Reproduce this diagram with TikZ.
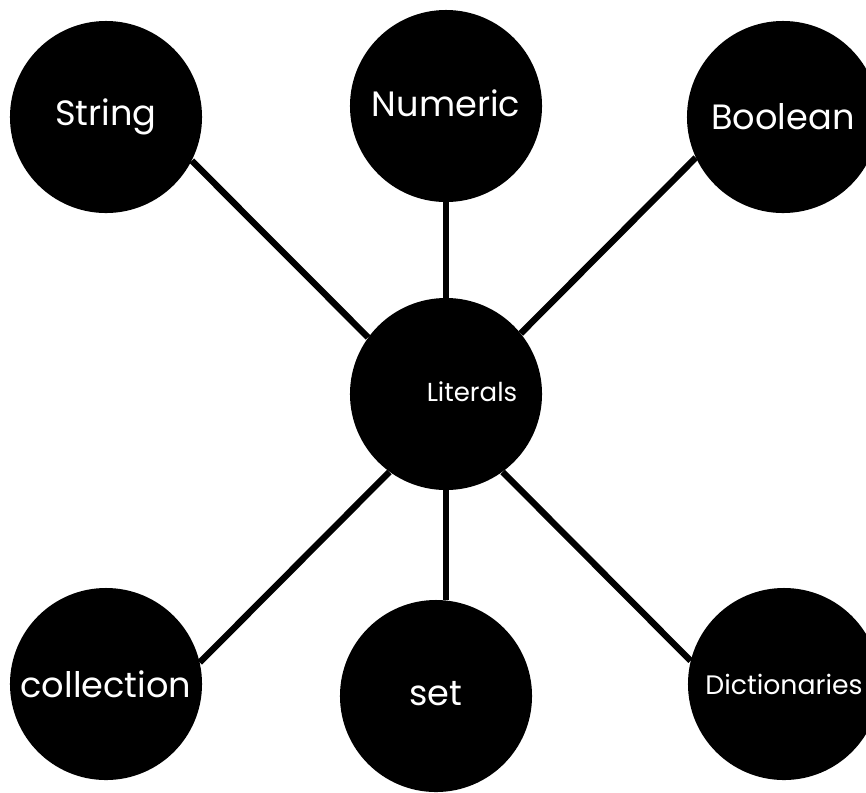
\documentclass[tikz,border=0pt]{standalone}
\usepackage{fontspec}
\setmainfont{Poppins}
\usepackage{tikz}
\usetikzlibrary{positioning}

\begin{document}
\begin{tikzpicture}[
    x=0.025cm, y=-0.025cm,
    font=\fontsize{25}{30}\selectfont,
    bubble/.style={circle, fill=black, text=white, minimum size=4.8cm, inner sep=0pt},
    link/.style={line width=0.16cm}
]
    \useasboundingbox (0,0) rectangle (866,792);
    \clip (0,0) rectangle (866,792);

    \node[bubble] (lit) at (446,394) {};
    \node[text=white, font=\fontsize{18.5}{22}\selectfont] (littext) at (472,392) {Literals};

    \node[bubble] (str) at (106,117) {String};
    \node[bubble] (num) at (446,106) {\raisebox{4pt}{Numeric}};
    \node[bubble] (bool) at (783,117) {Boolean};
    \node[bubble] (coll) at (106,684) {collection};
    \node[bubble] (set) at (436,696) {\raisebox{3pt}{set}};
    \node[bubble, font=\fontsize{19}{22}\selectfont] (dict) at (784,684) {Dictionaries};

    \draw[link] (lit.144) -- (str.-27);
    \draw[link] (lit.north) -- (num.south);
    \draw[link] (lit.39) -- (bool.205);
    \draw[link] (lit.234) -- (coll.13);
    \draw[link] (lit.south) -- (lit.south |- set.north);
    \draw[link] (lit.-54) -- (dict.166);
\end{tikzpicture}
\end{document}
